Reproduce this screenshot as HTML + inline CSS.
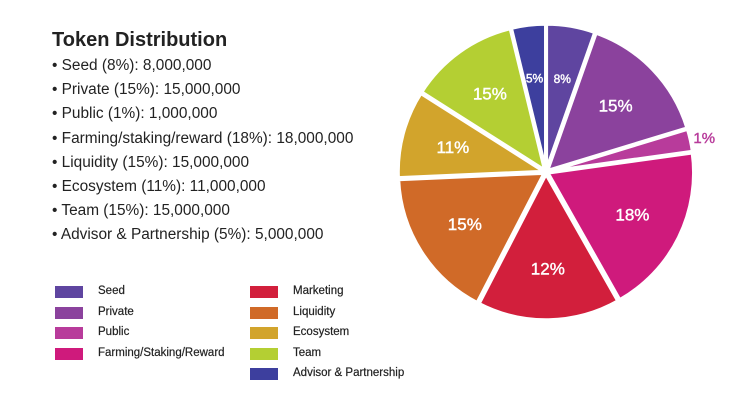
<!DOCTYPE html>
<html><head><meta charset="utf-8"><style>
body{margin:0;width:755px;height:411px;background:#fff;overflow:hidden;font-family:"Liberation Sans",sans-serif;position:relative}
#title{position:absolute;left:52px;top:29px;font-size:20px;font-weight:bold;color:#222;margin:0}
ul{position:absolute;left:52px;top:55px;margin:0;padding:0;list-style:none;font-size:15.4px;color:#222}
li{height:24.2px;line-height:22px}
.lg{position:absolute;font-size:11.5px;color:#222;-webkit-text-stroke:0.2px #222}
.sw{position:absolute;width:28px;height:12px}
svg{position:absolute;left:0;top:0}
</style></head><body>
<div id="title">Token Distribution</div>
<ul>
<li>• Seed (8%): 8,000,000</li>
<li>• Private (15%): 15,000,000</li>
<li>• Public (1%): 1,000,000</li>
<li>• Farming/staking/reward (18%): 18,000,000</li>
<li>• Liquidity (15%): 15,000,000</li>
<li>• Ecosystem (11%): 11,000,000</li>
<li>• Team (15%): 15,000,000</li>
<li>• Advisor &amp; Partnership (5%): 5,000,000</li>
</ul>
<div id="legend"></div>
<svg id="pie" width="755" height="411"></svg>
<script>
const categories=["Seed","Private","Public","Farming/Staking/Reward","Marketing","Liquidity","Ecosystem","Team","Advisor & Partnership"];
const shares=[5.4,14.9,2.5,19.0,15.8,16.7,9.7,12.2,3.8];
const labels=["8%","15%","1%","18%","12%","15%","11%","15%","5%"];
const colors=["#5f45a0","#8b429d","#b83b9b","#cf1a7c","#d21f3c","#d06a28","#d2a42c","#b4cf33","#3d3f9e"];
const svg=document.getElementById('pie');
const NS="http://www.w3.org/2000/svg";
const cx=546,cy=172,R=146;
const total=shares.reduce((a,b)=>a+b,0);
function pt(a,r){return [cx+r*Math.sin(a),cy-r*Math.cos(a)];}
let acc=0;
shares.forEach((v,i)=>{
  const a0=acc/total*2*Math.PI; acc+=v; const a1=acc/total*2*Math.PI;
  const am=(a0+a1)/2; const ox=2*Math.sin(am), oy=-2*Math.cos(am);
  const p0=pt(a0,R),p1=pt(a1,R);
  const path=document.createElementNS(NS,'path');
  path.setAttribute('d',`M${cx} ${cy}L${p0[0]} ${p0[1]}A${R} ${R} 0 ${a1-a0>Math.PI?1:0} 1 ${p1[0]} ${p1[1]}Z`);
  path.setAttribute('fill',colors[i]);path.setAttribute('stroke','#fff');path.setAttribute('stroke-width','3.5');
  path.setAttribute('stroke-linejoin','round');
  path.setAttribute('transform',`translate(${ox},${oy})`);
  
  
  svg.appendChild(path);
  const small=v<3;
  const lp=pt(am,small?R+16:R*0.66);
  const t=document.createElementNS(NS,'text');
  t.setAttribute('x',lp[0]);t.setAttribute('y',lp[1]+6);t.setAttribute('text-anchor','middle');
  t.setAttribute('font-family','Liberation Sans, sans-serif');
  t.setAttribute('font-size',small?'15':(v<6?'12':'17'));
  t.setAttribute('stroke',small?colors[i]:'#fff');
  t.setAttribute('stroke-width','0.4');
  t.setAttribute('fill',small?colors[i]:'#fff');
  t.textContent=labels[i];
  
  
  svg.appendChild(t);
});
const lg=document.getElementById('legend');
categories.forEach((c,i)=>{
  const col=i<4?0:1,row=i<4?i:i-4;
  const x=col?250:55,y=286+row*20.6;
  const s=document.createElement('div');s.className='sw';
  s.style.left=x+'px';s.style.top=y+'px';s.style.background=colors[i];
  
  
  lg.appendChild(s);
  const t=document.createElementNS?document.createElement('div'):null;t.className='lg';
  t.style.left=(x+43)+'px';t.style.top=(y-1)+'px';t.textContent=c;
  
  
  lg.appendChild(t);
});
</script>
</body></html>
